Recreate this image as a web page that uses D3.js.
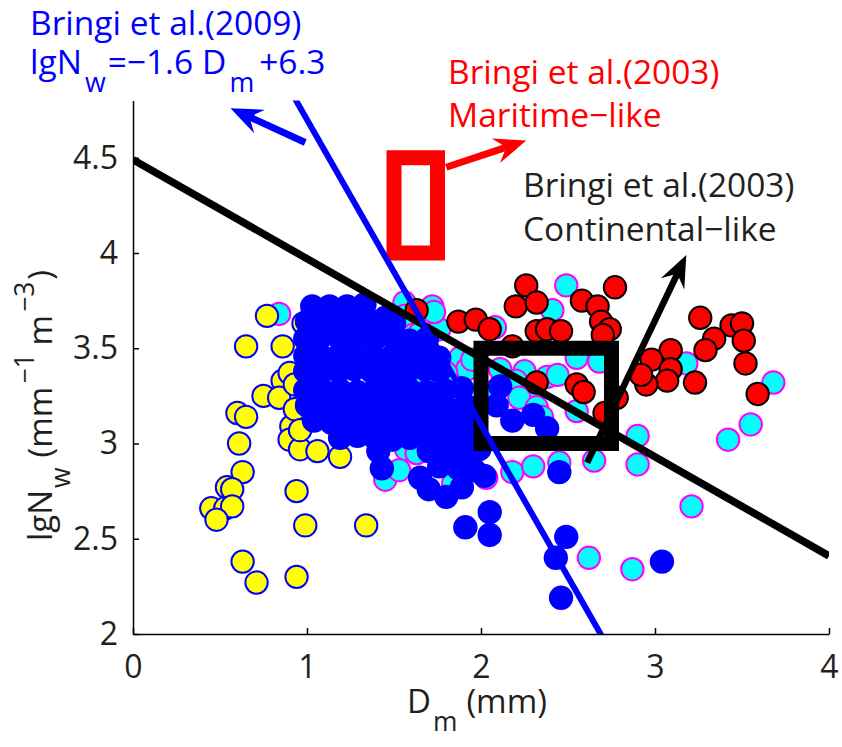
<!DOCTYPE html>
<html>
<head>
<meta charset="utf-8">
<script src="https://cdn.jsdelivr.net/npm/d3@7"></script>
<style>
  html, body { margin: 0; padding: 0; background: #fff; }
  svg { display: block; }
  text { font-family: "Open Sans", "DejaVu Sans", sans-serif; }
</style>
</head>
<body>
<svg id="chart" width="842" height="747"></svg>
<script>
// ---- data: [Dm (mm), lgNw] ----
const cyanPts = [
  [0.84,3.68],[1.56,3.74],[1.72,3.72],[1.56,3.67],[1.61,3.57],[1.65,3.58],[1.76,3.60],[1.73,3.69],
  [1.52,3.48],[1.22,3.62],[1.88,3.45],[1.92,3.39],[1.80,3.37],[1.95,3.44],[1.59,3.33],[2.08,3.61],
  [2.41,3.70],[2.49,3.83],[2.11,3.39],[2.25,3.38],[2.20,3.33],[2.30,3.30],[2.38,3.35],[2.44,3.36],
  [2.55,3.45],[2.68,3.43],[2.22,3.24],[2.07,3.27],[2.32,3.19],[2.35,3.14],[2.55,3.17],[1.57,2.97],
  [1.63,2.95],[1.45,2.81],[1.84,2.79],[1.93,2.86],[2.03,2.82],[2.18,2.85],[2.30,2.88],[2.45,2.90],
  [2.65,2.91],[2.90,3.04],[2.90,2.89],[3.18,3.42],[3.68,3.32],[3.55,3.10],[3.42,3.02],[3.21,2.67],
  [2.62,2.40],[2.87,2.34],[1.53,2.86]
];
const yellowPts = [
  [0.77,3.67],[0.65,3.51],[0.86,3.51],[0.75,3.25],[0.86,3.33],[0.90,3.37],[0.84,3.24],[0.60,3.16],
  [0.65,3.14],[0.61,3.00],[0.63,2.85],[0.54,2.77],[0.57,2.76],[0.45,2.66],[0.53,2.66],[0.57,2.67],
  [0.48,2.60],[0.94,2.75],[0.99,2.57],[1.34,2.57],[0.63,2.38],[0.71,2.27],[0.94,2.30],[0.91,3.09],
  [0.90,3.02],[0.96,2.97],[1.06,2.96],[1.19,2.93],[0.98,3.63],[0.93,3.18],[0.93,3.31],[0.96,3.07]
];
const redPts = [
  [2.26,3.83],[2.20,3.72],[2.32,3.74],[1.87,3.64],[1.97,3.65],[2.05,3.60],[1.63,3.70],[2.18,3.51],
  [2.32,3.59],[2.38,3.60],[2.46,3.59],[2.58,3.75],[2.67,3.72],[2.77,3.82],[2.69,3.64],[2.74,3.60],
  [2.70,3.57],[2.32,3.32],[2.55,3.31],[2.59,3.27],[2.71,3.16],[2.78,3.24],[3.26,3.66],[3.44,3.62],
  [3.50,3.63],[3.34,3.55],[3.29,3.49],[3.51,3.54],[3.52,3.42],[3.59,3.26],[3.09,3.49],[2.98,3.44],
  [3.09,3.39],[3.07,3.33],[2.95,3.31],[2.92,3.36],[3.23,3.32]
];
const bluePts = [
  [1.03,3.72],[1.13,3.72],[1.23,3.72],[1.33,3.73],[1.45,3.66],
  [1.00,3.64],[1.10,3.64],[1.21,3.62],[1.30,3.64],[1.41,3.64],[1.50,3.63],
  [0.99,3.55],[1.08,3.56],[1.19,3.55],[1.29,3.54],[1.39,3.55],[1.49,3.56],[1.59,3.54],[1.69,3.55],
  [0.99,3.46],[1.08,3.46],[1.19,3.47],[1.29,3.46],[1.39,3.45],[1.49,3.46],[1.58,3.47],[1.68,3.46],[1.76,3.45],
  [0.99,3.38],[1.07,3.37],[1.18,3.38],[1.27,3.39],[1.37,3.38],[1.47,3.37],[1.58,3.38],[1.68,3.39],[1.76,3.38],
  [0.99,3.28],[1.08,3.29],[1.19,3.28],[1.29,3.27],[1.39,3.28],[1.49,3.29],[1.59,3.28],[1.69,3.27],[1.79,3.28],[1.89,3.29],
  [1.00,3.20],[1.10,3.19],[1.20,3.21],[1.30,3.20],[1.41,3.19],[1.50,3.20],[1.60,3.21],[1.70,3.20],[1.80,3.19],[1.91,3.20],
  [1.04,3.12],[1.14,3.11],[1.25,3.12],[1.35,3.13],[1.45,3.12],[1.54,3.11],[1.65,3.12],[1.75,3.13],[1.85,3.12],[1.95,3.11],
  [1.19,3.03],[1.29,3.04],[1.39,3.03],[1.49,3.02],[1.59,3.03],[1.69,3.04],[1.79,3.03],[1.89,3.02],[1.98,3.03],
  [1.41,2.96],[1.70,2.96],[1.81,2.95],[1.91,2.96],[1.99,2.97],
  [1.43,2.87],[1.76,2.88],[1.87,2.87],[1.96,2.86],
  [1.65,2.82],[1.70,2.76],[1.80,2.72],[1.89,2.77],[2.02,2.83],[2.05,2.64],[2.05,2.52],[1.91,2.56],
  [2.11,3.30],[2.09,3.20],[2.18,3.12],[2.30,3.15],[2.38,3.08],[2.45,2.85],[2.49,2.51],[2.43,2.40],
  [2.46,2.19],[3.04,2.38]
];

// ---- reference lines: lgNw = slope * Dm + intercept ----
const bringi2009Line = { slope: -1.6, intercept: 6.3 };
const separatorLine  = { slope: -0.52, intercept: 4.49 };

// ---- Bringi et al. (2003) regimes: [Dm min, Dm max, lgNw min, lgNw max] ----
const maritimeBox    = [1.5, 1.75, 4.0, 4.5];
const continentalBox = [2.0, 2.75, 3.0, 3.5];

// ---- annotation arrows: [tail, tip] in data units ----
const blueArrow  = [[0.99, 4.58], [0.56, 4.76]];
const redArrow   = [[1.80, 4.45], [2.26, 4.59]];
const blackArrow = [[2.61, 2.90], [3.18, 3.99]];

// ---- axes ----
const xTicks = [0, 1, 2, 3, 4];
const yTicks = [2, 2.5, 3, 3.5, 4, 4.5];
const xDomain = [0, 4];
const yDomain = [2, 4.8];

const svg = d3.select("#chart");
const x = d3.scaleLinear().domain(xDomain).range([133, 829]);
const y = d3.scaleLinear().domain(yDomain).range([634, 100.6]);
const ink = "#231f20";

svg.append("defs").append("clipPath").attr("id", "plotClip")
  .append("rect")
  .attr("x", x(xDomain[0])).attr("y", y(yDomain[1]))
  .attr("width", x(xDomain[1]) - x(xDomain[0]))
  .attr("height", y(yDomain[0]) - y(yDomain[1]));

const plot = svg.append("g");

// scatter series, back to front
function drawSeries(pts, fill, stroke) {
  plot.append("g").selectAll("circle").data(pts).join("circle")
    .attr("cx", d => x(d[0])).attr("cy", d => y(d[1]))
    .attr("r", 11.2)
    .attr("fill", fill).attr("stroke", stroke).attr("stroke-width", 2);
}
drawSeries(cyanPts, "#00ffff", "#ff00ff");
drawSeries(yellowPts, "#ffff00", "#0000ff");
drawSeries(redPts, "#ff0000", "#000000");
drawSeries(bluePts, "#0000ff", "#0000ff");

// straight relations clipped to the axes box
function drawRelation(rel, color, width) {
  const pts = xDomain.map(d => [d, rel.slope * d + rel.intercept]);
  plot.append("path")
    .attr("clip-path", "url(#plotClip)")
    .attr("d", d3.line().x(d => x(d[0])).y(d => y(d[1]))(pts))
    .attr("fill", "none").attr("stroke", color).attr("stroke-width", width);
}
drawRelation(separatorLine, "#000000", 7.5);

function drawBox(b, color, width) {
  plot.append("rect")
    .attr("x", x(b[0])).attr("y", y(b[3]))
    .attr("width", x(b[1]) - x(b[0])).attr("height", y(b[2]) - y(b[3]))
    .attr("fill", "none").attr("stroke", color).attr("stroke-width", width);
}
drawBox(maritimeBox, "#ff0000", 15);
drawBox(continentalBox, "#000000", 15);

drawRelation(bringi2009Line, "#0000ff", 6);

// arrows with a swept-back head
function drawArrow(a, color, width) {
  const t = [x(a[0][0]), y(a[0][1])], p = [x(a[1][0]), y(a[1][1])];
  const dx = p[0] - t[0], dy = p[1] - t[1], len = Math.hypot(dx, dy);
  const u = [dx / len, dy / len], n = [-u[1], u[0]];
  const h = 32, w = 13, notch = 21;
  const back = k => [p[0] - h * u[0] + k * w * n[0], p[1] - h * u[1] + k * w * n[1]];
  const nb = [p[0] - notch * u[0], p[1] - notch * u[1]];
  plot.append("line")
    .attr("x1", t[0]).attr("y1", t[1]).attr("x2", nb[0] + 2 * u[0]).attr("y2", nb[1] + 2 * u[1])
    .attr("stroke", color).attr("stroke-width", width);
  const b1 = back(1), b2 = back(-1);
  plot.append("path")
    .attr("d", `M${p[0]},${p[1]}L${b1[0]},${b1[1]}L${nb[0]},${nb[1]}L${b2[0]},${b2[1]}Z`)
    .attr("fill", color);
}
drawArrow(blueArrow, "#0000ff", 7);
drawArrow(redArrow, "#ff0000", 7);
drawArrow(blackArrow, "#000000", 6.5);

// axes (ticks point inward, no box)
const xAxis = svg.append("g").attr("transform", `translate(0,${y(yDomain[0])})`)
  .call(d3.axisBottom(x).tickValues(xTicks).tickFormat(d3.format("d"))
    .tickSizeInner(-6).tickSizeOuter(0).tickPadding(21));
const yAxis = svg.append("g").attr("transform", `translate(${x(xDomain[0])},0)`)
  .call(d3.axisLeft(y).tickValues(yTicks).tickFormat(d => String(d))
    .tickSizeInner(-6).tickSizeOuter(0).tickPadding(15));
[xAxis, yAxis].forEach(g => {
  g.select(".domain").attr("stroke", "#000").attr("stroke-width", 1.5);
  g.selectAll(".tick line").attr("stroke", "#000").attr("stroke-width", 1.5);
  g.selectAll(".tick text").attr("fill", ink).attr("font-size", 32)
    .attr("font-family", '"Open Sans", sans-serif');
});

// rich text helper: segments of [text, shift, dx] where shift is "sub", "sup" or ""
function richText(parent, segs, size, color) {
  const t = parent.append("text").attr("fill", color).attr("font-size", size);
  let cur = 0;
  segs.forEach(([s, kind, dxv]) => {
    const target = kind === "sub" ? size * 0.55 : kind === "sup" ? -size * 0.55 : 0;
    const sp = t.append("tspan").text(s).attr("dy", target - cur);
    if (dxv) sp.attr("dx", dxv);
    if (kind) sp.attr("font-size", size * 0.8);
    cur = target;
  });
  return t;
}

// axis titles
const xl = richText(svg, [["D", ""], ["m", "sub", 2], ["(mm)", "", 9]], 33, ink);
xl.attr("x", 407).attr("y", 713);

richText(svg.append("g").attr("transform", "translate(52,541) rotate(-90)"),
  [["lgN", ""], ["w", "sub", 2], ["(mm", "", 10], ["−1", "sup", 3], ["m", "", 8], ["−3", "sup", 3], [")", "", 2]], 33, ink);

// annotations
const big = 33.5;
svg.append("text").attr("x", 30).attr("y", 35).attr("fill", "#0000ff")
  .attr("font-size", big).text("Bringi et al.(2009)");
richText(svg, [["lgN", ""], ["w", "sub", 3], ["=−1.6", "", 2], ["D", "", 9], ["m", "sub", 3], ["+6.3", "", 5]], big, "#0000ff")
  .attr("x", 30).attr("y", 74);

svg.append("text").attr("x", 448).attr("y", 84).attr("fill", "#ff0000")
  .attr("font-size", big).text("Bringi et al.(2003)");
svg.append("text").attr("x", 448).attr("y", 127).attr("fill", "#ff0000")
  .attr("font-size", big).text("Maritime−like");

svg.append("text").attr("x", 523).attr("y", 197).attr("fill", ink)
  .attr("font-size", big).text("Bringi et al.(2003)");
svg.append("text").attr("x", 523).attr("y", 241).attr("fill", ink)
  .attr("font-size", big).text("Continental−like");
</script>
</body>
</html>
